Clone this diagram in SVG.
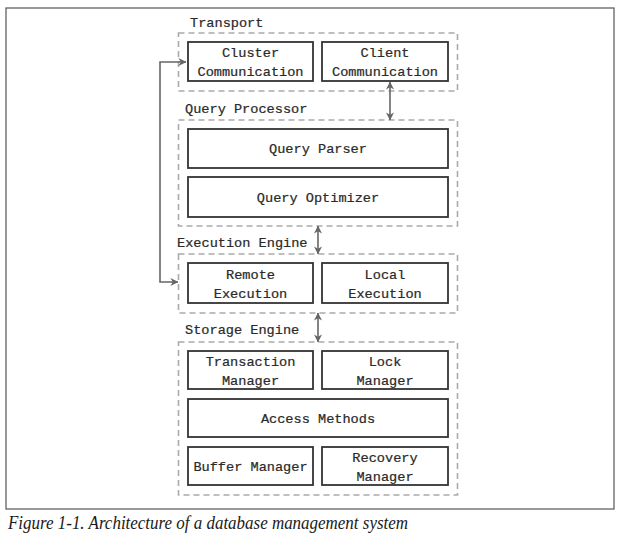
<svg xmlns="http://www.w3.org/2000/svg" width="631" height="541" viewBox="0 0 631 541">
<style>
.frame{fill:none;stroke:#555;stroke-width:1.2}
.grp{fill:none;stroke:#aaa;stroke-width:1.6;stroke-dasharray:6 4}
.node rect{fill:#fff;stroke:#333;stroke-width:1.8}
.t{font-family:"Liberation Mono","DejaVu Sans Mono",monospace;font-size:13.6px;fill:#2a2a2a;stroke:#2a2a2a;stroke-width:0.22;text-anchor:middle}
.lbl{font-family:"Liberation Mono","DejaVu Sans Mono",monospace;font-size:13.6px;fill:#2a2a2a;stroke:#2a2a2a;stroke-width:0.22}
.cap{font-family:"Liberation Serif","DejaVu Serif",serif;font-style:italic;font-size:19px;fill:#1a1a1a}
.conn{fill:none;stroke:#666;stroke-width:1.6}
</style>
<defs>
<marker id="ah" viewBox="0 0 10 10" refX="9.5" refY="5" markerWidth="8" markerHeight="8" orient="auto-start-reverse" markerUnits="userSpaceOnUse">
<path d="M0,0 L10,5 L0,10 L3,5 Z" fill="#666"/>
</marker>
</defs>
<rect width="631" height="541" fill="#fff"/>
<rect class="frame" x="6" y="8" width="608" height="501"/>

<g id="groups">
<text class="lbl" x="190" y="27">Transport</text>
<rect class="grp" x="178.5" y="33" width="279" height="58"/>
<text class="lbl" x="185" y="113">Query Processor</text>
<rect class="grp" x="178.5" y="120" width="279" height="106"/>
<text class="lbl" x="177" y="247">Execution Engine</text>
<rect class="grp" x="178.5" y="254" width="279" height="59"/>
<text class="lbl" x="185" y="334">Storage Engine</text>
<rect class="grp" x="178.5" y="342" width="279" height="153"/>
</g>

<g id="cluster" class="node"><rect x="188" y="42" width="125" height="39"/><text class="t" x="250.5" y="57">Cluster</text><text class="t" x="250.5" y="76">Communication</text></g>
<g id="client" class="node"><rect x="322" y="42" width="126" height="39"/><text class="t" x="385" y="57">Client</text><text class="t" x="385" y="76">Communication</text></g>
<g id="parser" class="node"><rect x="188" y="129" width="260" height="39"/><text class="t" x="318" y="153">Query Parser</text></g>
<g id="optimizer" class="node"><rect x="188" y="177" width="260" height="40"/><text class="t" x="318" y="201.5">Query Optimizer</text></g>
<g id="remote" class="node"><rect x="188" y="263" width="125" height="40"/><text class="t" x="250.5" y="278.5">Remote</text><text class="t" x="250.5" y="297.5">Execution</text></g>
<g id="local" class="node"><rect x="322" y="263" width="126" height="40"/><text class="t" x="385" y="278.5">Local</text><text class="t" x="385" y="297.5">Execution</text></g>
<g id="txn" class="node"><rect x="188" y="351" width="125" height="38"/><text class="t" x="250.5" y="365.5">Transaction</text><text class="t" x="250.5" y="384.5">Manager</text></g>
<g id="lock" class="node"><rect x="322" y="351" width="126" height="38"/><text class="t" x="385" y="365.5">Lock</text><text class="t" x="385" y="384.5">Manager</text></g>
<g id="access" class="node"><rect x="188" y="399" width="260" height="38"/><text class="t" x="318" y="422.5">Access Methods</text></g>
<g id="buffer" class="node"><rect x="188" y="447" width="125" height="38"/><text class="t" x="250.5" y="470.5">Buffer Manager</text></g>
<g id="recovery" class="node"><rect x="322" y="447" width="126" height="38"/><text class="t" x="385" y="461.5">Recovery</text><text class="t" x="385" y="480.5">Manager</text></g>

<g id="connectors">
<line class="conn" x1="390" y1="82" x2="390" y2="120" marker-start="url(#ah)" marker-end="url(#ah)"/>
<line class="conn" x1="318" y1="226" x2="318" y2="254" marker-start="url(#ah)" marker-end="url(#ah)"/>
<line class="conn" x1="318" y1="313" x2="318" y2="342" marker-start="url(#ah)" marker-end="url(#ah)"/>
<path class="conn" d="M186,62 H160 V282 H178" marker-start="url(#ah)" marker-end="url(#ah)"/>
</g>

<text class="cap" x="8" y="529" textLength="400" lengthAdjust="spacingAndGlyphs">Figure 1-1. Architecture of a database management system</text>
</svg>
